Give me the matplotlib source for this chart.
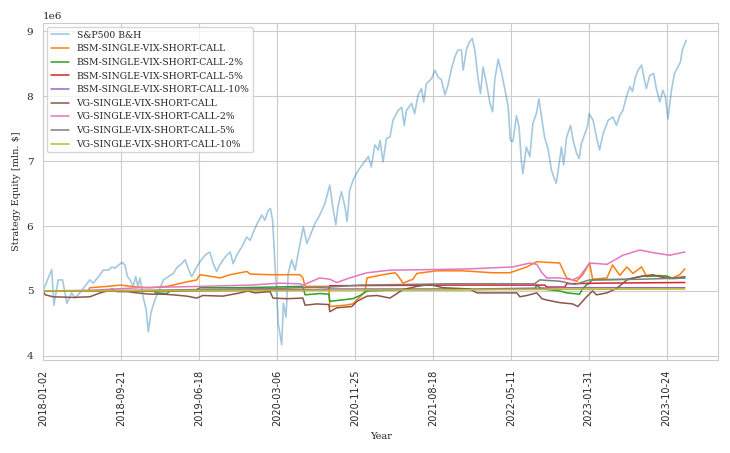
import numpy as np
import matplotlib
matplotlib.use("Agg")
import matplotlib.pyplot as plt
import seaborn as sns

# trading-day index of each sample, values in mln $
sp_day = [1, 20, 25, 35, 45, 55, 66, 74, 85, 108, 116, 128, 139, 151, 159, 166, 182, 189, 195, 201,
          208, 214, 219, 224, 231, 238, 243, 249, 258, 270, 278, 289, 301, 309, 320, 328, 335, 343, 351, 362,
          374, 385, 393, 401, 408, 416, 424, 432, 439, 447, 459, 470, 478, 489, 497, 505, 512, 520, 525, 530,
          535, 543, 551, 555, 561, 566, 574, 582, 589, 601, 609, 616, 628, 639, 651, 662, 670, 676, 681, 689,
          697, 702, 708, 716, 728, 739, 751, 758, 766, 774, 778, 785, 793, 801, 808, 820, 828, 834, 839, 851,
          858, 866, 874, 879, 885, 897, 905, 912, 920, 928, 935, 943, 951, 958, 966, 970, 978, 985, 991, 997,
          1005, 1010, 1016, 1024, 1032, 1038, 1043, 1051, 1059, 1066, 1074, 1079, 1085, 1093, 1099, 1105, 1108, 1116, 1124, 1131,
          1139, 1145, 1151, 1158, 1166, 1174, 1179, 1185, 1193, 1197, 1202, 1209, 1218, 1224, 1232, 1238, 1243, 1251, 1257, 1261,
          1270, 1278, 1285, 1293, 1305, 1316, 1324, 1332, 1339, 1347, 1355, 1361, 1368, 1374, 1382, 1387, 1393, 1401, 1410, 1416,
          1424, 1431, 1437, 1443, 1451, 1458, 1466, 1472, 1476, 1482, 1485]
sp_val = [5.02, 5.33, 4.78, 5.17, 5.17, 4.81, 4.97, 4.89, 4.97, 5.17, 5.12, 5.22, 5.32, 5.32, 5.37, 5.35, 5.44, 5.40, 5.22, 5.17,
          5.07, 5.22, 5.07, 5.20, 4.91, 4.71, 4.37, 4.66, 4.86, 5.04, 5.17, 5.22, 5.27, 5.36, 5.42, 5.48, 5.35, 5.22, 5.32, 5.45,
          5.55, 5.60, 5.42, 5.30, 5.40, 5.48, 5.55, 5.60, 5.42, 5.55, 5.68, 5.83, 5.78, 5.96, 6.07, 6.17, 6.09, 6.24, 6.27, 6.09,
          5.48, 4.50, 4.17, 4.81, 4.60, 5.27, 5.48, 5.32, 5.58, 5.99, 5.73, 5.84, 6.04, 6.17, 6.35, 6.63, 6.25, 6.02, 6.30, 6.53,
          6.30, 6.07, 6.55, 6.71, 6.86, 6.96, 7.07, 6.91, 7.25, 7.17, 7.32, 6.99, 7.35, 7.37, 7.63, 7.78, 7.83, 7.55, 7.78, 7.89,
          7.73, 8.02, 8.12, 7.91, 8.19, 8.27, 8.40, 8.30, 8.25, 8.02, 8.17, 8.42, 8.61, 8.71, 8.71, 8.40, 8.73, 8.84, 8.89, 8.71,
          8.25, 8.04, 8.45, 8.19, 7.89, 7.76, 8.25, 8.57, 8.35, 8.12, 7.84, 7.32, 7.30, 7.70, 7.53, 6.96, 6.81, 7.22, 7.07, 7.58,
          7.73, 7.96, 7.68, 7.37, 7.19, 6.86, 6.76, 6.66, 7.02, 7.22, 6.94, 7.37, 7.55, 7.32, 7.12, 7.04, 7.27, 7.42, 7.53, 7.73,
          7.63, 7.37, 7.17, 7.42, 7.63, 7.68, 7.55, 7.71, 7.78, 7.99, 8.15, 8.07, 8.30, 8.40, 8.48, 8.30, 8.12, 8.32, 8.35, 8.12,
          7.91, 8.09, 7.99, 7.65, 8.09, 8.35, 8.45, 8.53, 8.71, 8.81, 8.86]

bsm_day = [0, 104, 108, 148, 178, 217, 247, 286, 300, 332, 355, 362, 392, 408, 432, 471, 478, 524, 593, 600,
           605, 660, 662, 697, 715, 732, 743, 748, 762, 785, 812, 819, 831, 854, 863, 909, 969, 1038, 1078, 1117,
           1140, 1193, 1209, 1232, 1246, 1262, 1269, 1302, 1315, 1332, 1348, 1362, 1382, 1394, 1424, 1454, 1470, 1482]
bsm_val = [5.0, 5.0, 5.05, 5.07, 5.09, 5.06, 5.05, 5.07, 5.09, 5.14, 5.17, 5.25, 5.22, 5.20, 5.25, 5.30, 5.26, 5.25, 5.25, 5.20,
           5.07, 5.07, 4.76, 4.78, 4.80, 4.91, 4.98, 5.20, 5.22, 5.25, 5.28, 5.24, 5.12, 5.18, 5.27, 5.31, 5.31, 5.28, 5.28, 5.37,
           5.45, 5.43, 5.20, 5.15, 5.25, 5.43, 5.18, 5.20, 5.40, 5.24, 5.37, 5.27, 5.37, 5.22, 5.24, 5.20, 5.25, 5.34]

bsm2_day = [0, 258, 259, 286, 293, 355, 362, 455, 531, 600, 605, 639, 660, 662, 715, 732, 748, 831, 962, 1101,
            1135, 1140, 1152, 1193, 1209, 1239, 1246, 1269, 1348, 1385, 1440, 1454, 1482]
bsm2_val = [5.0, 5.0, 4.97, 4.96, 5.0, 5.02, 5.05, 5.05, 5.06, 5.07, 4.94, 4.96, 4.95, 4.84, 4.88, 4.93, 5.0, 5.02, 5.02, 5.03,
            5.03, 5.09, 5.03, 5.0, 4.97, 4.95, 5.04, 5.17, 5.18, 5.23, 5.23, 5.19, 5.20]

bsm5_day = [0, 247, 593, 660, 662, 939, 1159, 1163, 1205, 1209, 1285, 1482]
bsm5_val = [5.0, 5.0, 5.02, 5.02, 5.08, 5.09, 5.09, 5.06, 5.06, 5.11, 5.12, 5.13]

bsm10_day = [0, 600, 662, 1000, 1209, 1482]
bsm10_val = [5.0, 5.01, 5.03, 5.03, 5.05, 5.05]

vg_day = [0, 5, 23, 69, 108, 132, 148, 159, 171, 194, 217, 247, 277, 300, 332, 355, 369, 415, 455, 473,
          489, 524, 531, 563, 600, 605, 632, 660, 662, 678, 713, 725, 748, 771, 801, 831, 863, 893, 923, 985,
          1002, 1038, 1094, 1101, 1117, 1140, 1152, 1163, 1193, 1223, 1235, 1255, 1269, 1278, 1302, 1325, 1348, 1378, 1408, 1424,
          1447, 1482]
vg_val = [5.0, 4.94, 4.91, 4.90, 4.91, 4.97, 5.0, 5.03, 4.99, 4.99, 4.97, 4.95, 4.95, 4.94, 4.92, 4.89, 4.93, 4.92, 4.97, 5.0,
          4.97, 4.99, 4.89, 4.88, 4.89, 4.78, 4.80, 4.79, 4.68, 4.74, 4.76, 4.84, 4.92, 4.93, 4.89, 5.02, 5.07, 5.10, 5.05, 5.03,
          4.97, 4.97, 4.97, 4.91, 4.93, 4.97, 4.88, 4.86, 4.82, 4.80, 4.76, 4.91, 5.0, 4.94, 4.97, 5.04, 5.17, 5.22, 5.25, 5.22,
          5.19, 5.22]

vg2_day = [0, 108, 224, 362, 478, 547, 593, 600, 639, 662, 678, 708, 748, 801, 909, 985, 1085, 1124, 1140, 1152,
           1163, 1193, 1223, 1239, 1262, 1302, 1339, 1378, 1408, 1447, 1482]
vg2_val = [5.0, 5.01, 5.05, 5.07, 5.09, 5.12, 5.11, 5.09, 5.20, 5.18, 5.13, 5.20, 5.28, 5.32, 5.33, 5.34, 5.37, 5.43, 5.41, 5.28,
           5.20, 5.20, 5.17, 5.22, 5.43, 5.41, 5.55, 5.63, 5.59, 5.55, 5.60]

vg5_day = [0, 247, 547, 593, 662, 732, 939, 1135, 1147, 1193, 1228, 1262, 1378, 1482]
vg5_val = [5.0, 5.01, 5.04, 5.05, 5.06, 5.09, 5.11, 5.11, 5.17, 5.15, 5.10, 5.17, 5.18, 5.20]

vg10_day = [0, 600, 1000, 1482]
vg10_val = [5.0, 5.01, 5.02, 5.03]

tick_days = [0, 180, 360, 540, 720, 900, 1080, 1260, 1440]
tick_labels = ["2018-01-02", "2018-09-21", "2019-06-18", "2020-03-06", "2020-11-25",
               "2021-08-18", "2022-05-11", "2023-01-31", "2023-10-24"]

series = [
    ("BSM-SINGLE-VIX-SHORT-CALL", bsm_day, bsm_val),
    ("BSM-SINGLE-VIX-SHORT-CALL-2%", bsm2_day, bsm2_val),
    ("BSM-SINGLE-VIX-SHORT-CALL-5%", bsm5_day, bsm5_val),
    ("BSM-SINGLE-VIX-SHORT-CALL-10%", bsm10_day, bsm10_val),
    ("VG-SINGLE-VIX-SHORT-CALL", vg_day, vg_val),
    ("VG-SINGLE-VIX-SHORT-CALL-2%", vg2_day, vg2_val),
    ("VG-SINGLE-VIX-SHORT-CALL-5%", vg5_day, vg5_val),
    ("VG-SINGLE-VIX-SHORT-CALL-10%", vg10_day, vg10_val),
]

sns.set_style("whitegrid")
plt.rcParams["font.family"] = "DejaVu Serif"

fig, ax = plt.subplots(figsize=(7.3, 4.53), dpi=100)
fig.subplots_adjust(left=0.059, right=0.984, top=0.949, bottom=0.205)

ax.plot(sp_day, np.array(sp_val) * 1e6, color="tab:blue", alpha=0.4, lw=1.2, label="S&P500 B&H")
colors = ["tab:orange", "tab:green", "tab:red", "tab:purple", "tab:brown", "tab:pink", "tab:gray", "tab:olive"]
for (name, d, v), c in zip(series, colors):
    ax.plot(d, np.array(v) * 1e6, color=c, lw=1.1, label=name)

ax.set_xlim(0, sp_day[-1] * 1.05)
ax.set_xticks(tick_days)
ax.set_xticklabels(tick_labels, rotation=90, fontsize=7, family="DejaVu Sans")
ax.tick_params(axis="y", labelsize=7.5)
ax.yaxis.get_offset_text().set_fontsize(7.5)
ax.set_xlabel("Year", fontsize=7)
ax.set_ylabel("Strategy Equity [mln. $]", fontsize=7)
ax.legend(loc="upper left", fontsize=6.7, frameon=True, borderaxespad=0.4, handlelength=2.0)

fig.savefig("out.png", dpi=100)
